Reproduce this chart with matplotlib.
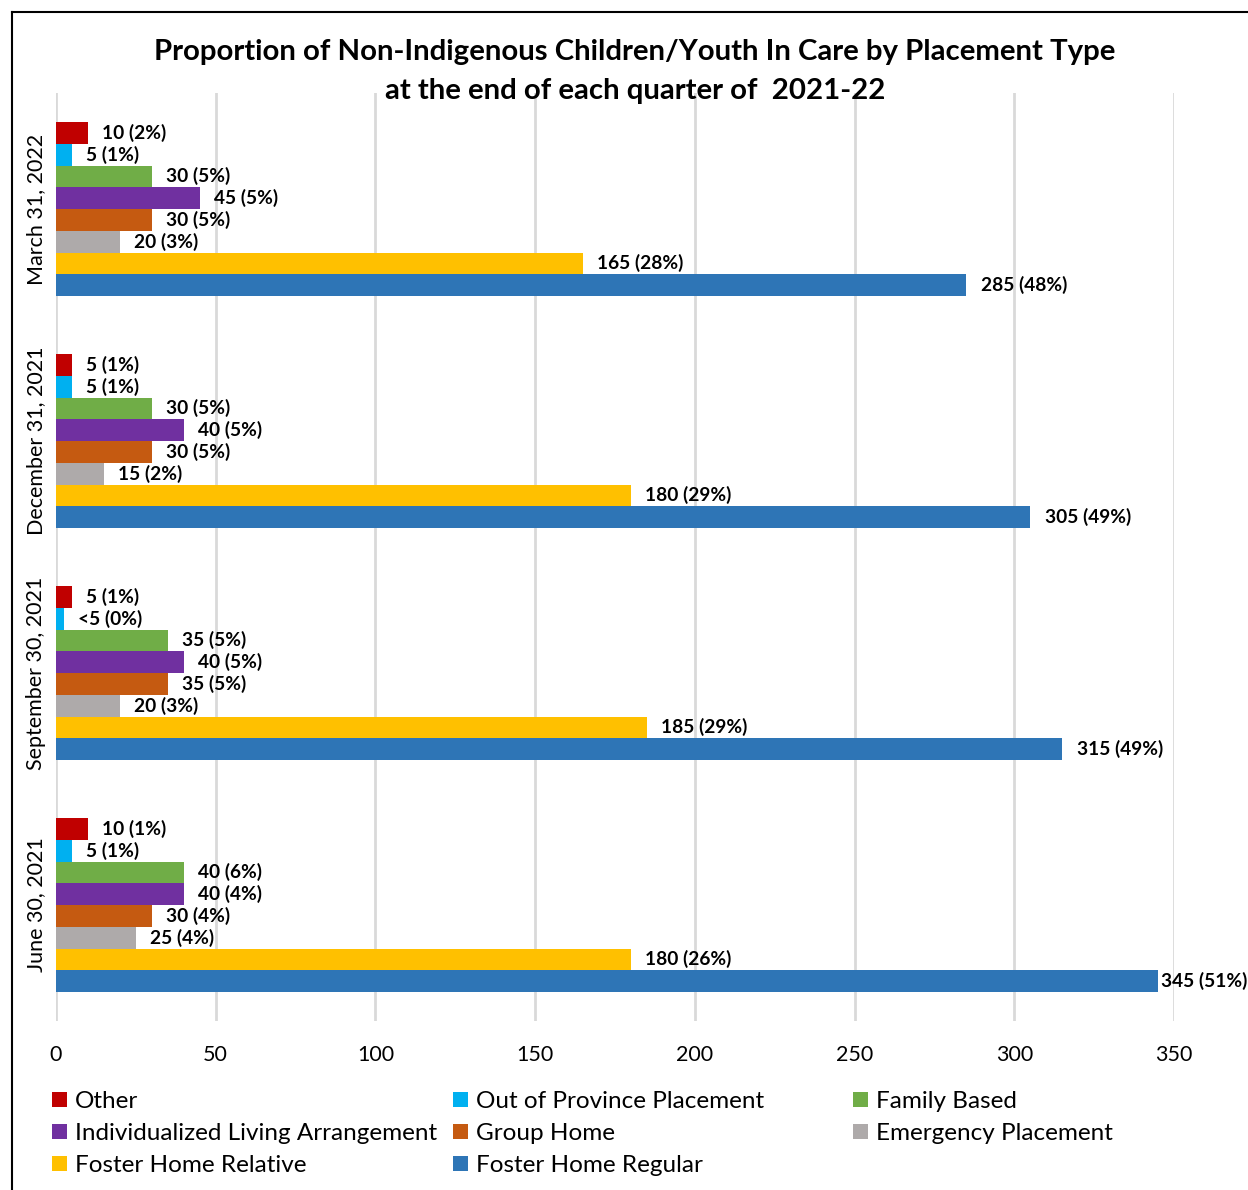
import matplotlib
matplotlib.use("Agg")
import matplotlib.pyplot as plt
from matplotlib.patches import Patch
from matplotlib.lines import Line2D
import numpy as np

plt.rcParams['font.family'] = ['Lato', 'DejaVu Sans']

categories = ["June 30, 2021", "September 30, 2021", "December 31, 2021", "March 31, 2022"]
series = ["Other", "Out of Province Placement", "Family Based",
          "Individualized Living Arrangement", "Group Home", "Emergency Placement",
          "Foster Home Relative", "Foster Home Regular"]
colors = ["#C00000", "#00B0F0", "#70AD47", "#7030A0", "#C55A11", "#AEAAAA", "#FFC000", "#2E75B6"]

# values per category (rows follow categories), columns follow series
values = [
    [10, 5, 40, 40, 30, 25, 180, 345],
    [5, 2.5, 35, 40, 35, 20, 185, 315],
    [5, 5, 30, 40, 30, 15, 180, 305],
    [10, 5, 30, 45, 30, 20, 165, 285],
]
labels = [
    ["10 (1%)", "5 (1%)", "40 (6%)", "40 (4%)", "30 (4%)", "25 (4%)", "180 (26%)", "345 (51%)"],
    ["5 (1%)", "<5 (0%)", "35 (5%)", "40 (5%)", "35 (5%)", "20 (3%)", "185 (29%)", "315 (49%)"],
    ["5 (1%)", "5 (1%)", "30 (5%)", "40 (5%)", "30 (5%)", "15 (2%)", "180 (29%)", "305 (49%)"],
    ["10 (2%)", "5 (1%)", "30 (5%)", "45 (5%)", "30 (5%)", "20 (3%)", "165 (28%)", "285 (48%)"],
]
xticks = [0, 50, 100, 150, 200, 250, 300, 350]

W, H = 1248, 1190
fig = plt.figure(figsize=(W / 100, H / 100), dpi=100)
ax = fig.add_axes([56 / W, 1 - 1021 / H, (1174 - 56) / W, (1021 - 93) / H])

n = len(series)
bh = 0.75 / n
for j, s in enumerate(series):
    ys = [i + 0.375 - bh * (j + 0.5) for i in range(len(categories))]
    vals = [values[i][j] for i in range(len(categories))]
    ax.barh(ys, vals, height=bh, color=colors[j], label=s, zorder=3)
    for i in range(len(categories)):
        off = 4.5 if vals[i] < 340 else 1.0
        ax.text(vals[i] + off, ys[i], labels[i][j], va='center', ha='left',
                fontsize=13.8, fontweight='bold', color='#000000', clip_on=False, zorder=4)

ax.set_xlim(0, 350)
ax.set_ylim(-0.5, 3.5)
ax.set_xticks(xticks)
ax.set_xticklabels([str(t) for t in xticks], fontsize=15.5)
ax.set_yticks(range(len(categories)))
ax.set_yticklabels(categories, rotation=90, va='center', fontsize=15.5)
ax.tick_params(axis='both', length=0)
ax.tick_params(axis='x', pad=17)
ax.tick_params(axis='y', pad=7)
ax.grid(axis='x', color='#D9D9D9', linewidth=2, zorder=0)
for sp in ax.spines.values():
    sp.set_visible(False)

fig.text(635 / W, 1 - 52 / H, "Proportion of Non-Indigenous Children/Youth In Care by Placement Type",
         ha='center', va='center', fontsize=21.2, fontweight='bold')
fig.text(635 / W, 1 - 91 / H, "at the end of each quarter of  2021-22",
         ha='center', va='center', fontsize=21.2, fontweight='bold')

# legend: three equal-width columns, row-major order
col_members = [[0, 3, 6], [1, 4, 7], [2, 5]]
col_x = [52, 453, 853]
for cx, members in zip(col_x, col_members):
    hs = [Patch(facecolor=colors[k], edgecolor='none') for k in members]
    ls = [series[k] for k in members]
    fig.legend(hs, ls, ncol=1, loc='upper left',
               bbox_to_anchor=(cx / W, 1 - 1091 / H), frameon=False, fontsize=17.5,
               handlelength=0.6, handleheight=0.6, handletextpad=0.35,
               labelspacing=0.45, borderaxespad=0, borderpad=0)

# outer border (left and top visible)
fig.add_artist(Line2D([12 / W, 12 / W], [0, 1 - 12 / H], color='black', linewidth=1.5))
fig.add_artist(Line2D([12 / W, 1], [1 - 12 / H, 1 - 12 / H], color='black', linewidth=1.5))

fig.savefig("out.png", dpi=100)
